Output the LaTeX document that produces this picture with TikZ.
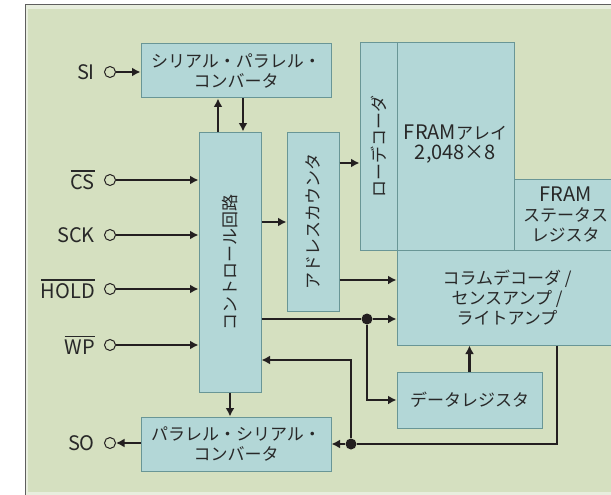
\documentclass[tikz,border=0pt]{standalone}
\usepackage{fontspec}
\usepackage{graphicx}
\newfontfamily\jp{Noto Sans CJK JP}
\setmainfont{Noto Sans CJK JP}
\usetikzlibrary{arrows.meta}
\definecolor{bg}{RGB}{213,224,192}
\definecolor{bgedge}{RGB}{232,238,222}
\definecolor{frameline}{RGB}{95,95,95}
\definecolor{boxfill}{RGB}{179,215,215}
\definecolor{boxline}{RGB}{105,150,150}
\definecolor{ink}{RGB}{35,31,32}
\definecolor{txt}{RGB}{40,40,40}
\newcommand\jpf{\jp\fontsize{17}{20}\selectfont}
\newcommand\lat{\jp\fontsize{20}{22}\selectfont}
\newcommand\ovl[1]{\leavevmode\vbox{\hrule height 1.4pt\kern 2.6pt\hbox{#1}}}
\begin{document}
\begin{tikzpicture}[x=1pt,y=-1pt,
  blk/.style={draw=boxline, line width=1pt, fill=boxfill, inner sep=0pt, align=center, font=\jpf, text=txt},
  arr/.style={draw=ink, line width=2.2pt, -{Latex[length=8.5pt,width=9pt]}},
  ln/.style={draw=ink, line width=2.2pt},
  pincirc/.style={circle, draw=ink, line width=1pt, fill=bg, minimum size=11pt, inner sep=0pt},
  lbl/.style={anchor=east, inner sep=0pt, font=\lat, text=txt},
  jdot/.style={circle, fill=ink, minimum size=11pt, inner sep=0pt}]
\useasboundingbox (0,0) rectangle (611,495);
% background frame
\fill[bgedge] (25,5) rectangle (620,495);
\fill[bg] (28,9) rectangle (620,492);
\draw[frameline, line width=1pt] (25,495) -- (25,5) -- (620,5);
% blocks
\node[blk, minimum width=190pt, minimum height=54pt] (sipc) at (236,71) {シリアル・パラレル・\\コンバータ};
\node[blk, minimum width=62pt, minimum height=260pt] (ctrl) at (230,262) {\rotatebox{90}{コントロール回路}};
\node[blk, minimum width=52pt, minimum height=179pt] (addr) at (313,221.5) {\rotatebox{90}{アドレスカウンタ}};
\node[blk, minimum width=37pt, minimum height=207pt] (rowdec) at (378.5,146.5) {\rotatebox{90}{ローデコーダ}};
\node[blk, minimum width=117pt, minimum height=207pt] (array) at (455.5,146.5) {};
\node[font=\jpf, text=txt, align=center, inner sep=0pt] (arraytxt) at (455.5,144) {{\lat FRAM}アレイ\\{\lat 2,048×8}};
\node[blk, minimum width=103pt, minimum height=71pt] (status) at (565.5,214.5) {{\lat FRAM}\\ステータス\\レジスタ};
\node[blk, minimum width=220pt, minimum height=95pt] (coldec) at (507,297.5) {コラムデコーダ /\\センスアンプ /\\ライトアンプ};
\node[blk, minimum width=145pt, minimum height=56pt] (datareg) at (469.5,400) {データレジスタ};
\node[blk, minimum width=190pt, minimum height=54pt] (psc) at (236,444) {パラレル・シリアル・\\コンバータ};
% pins
\node[pincirc] (si) at (110,72) {};
\node[pincirc] (cs) at (110,180) {};
\node[pincirc] (sck) at (110,235) {};
\node[pincirc] (hold) at (110,289) {};
\node[pincirc] (wp) at (110,345) {};
\node[pincirc] (so) at (110,443) {};
\node[lbl] (silbl) at (95,72) {SI};
\node[lbl] (cslbl) at (95,180) {\ovl{CS}};
\node[lbl] (scklbl) at (95,235) {SCK};
\node[lbl] (holdlbl) at (95,289) {\ovl{HOLD}};
\node[lbl] (wplbl) at (95,345) {\ovl{WP}};
\node[lbl] (solbl) at (95,443) {SO};
% level coordinates
\coordinate (lv163) at (0,163);
\coordinate (lv222) at (0,222);
\coordinate (lv280) at (0,280);
\coordinate (lv360) at (0,360);
\coordinate (cx557) at (557,0);
\node[jdot] (d1) at (367,319) {};
\node[jdot] (d2) at (351,444) {};
% connectors
\draw[arr] (si) -- (sipc.west |- si);
\draw[arr] (cs) -- (ctrl.west |- cs);
\draw[arr] (sck) -- (ctrl.west |- sck);
\draw[arr] (hold) -- (ctrl.west |- hold);
\draw[arr] (wp) -- (ctrl.west |- wp);
\draw[arr] (psc.west |- so) -- (so);
\draw[arr] ([xshift=-12pt]ctrl.north) -- ([xshift=-12pt]ctrl.north |- sipc.south);
\draw[arr] ([xshift=13pt]ctrl.north |- sipc.south) -- ([xshift=13pt]ctrl.north);
\draw[arr] (ctrl.east |- lv222) -- (addr.west |- lv222);
\draw[arr] (addr.east |- lv163) -- (rowdec.west |- lv163);
\draw[arr] (addr.east |- lv280) -- (coldec.west |- lv280);
\draw[ln] (ctrl.east |- d1) -- (d1);
\draw[arr] (d1) -- (coldec.west |- d1);
\draw[arr] (d1) |- (datareg.west);
\draw[arr] (datareg.north) -- (datareg.north |- coldec.south);
\draw[ln] (coldec.south -| cx557) |- (d2);
\draw[arr] (d2) -- (psc.east |- d2);
\draw[arr] (d2) |- (ctrl.east |- lv360);
\draw[arr] (ctrl.south) -- (ctrl.south |- psc.north);
\end{tikzpicture}
\end{document}
